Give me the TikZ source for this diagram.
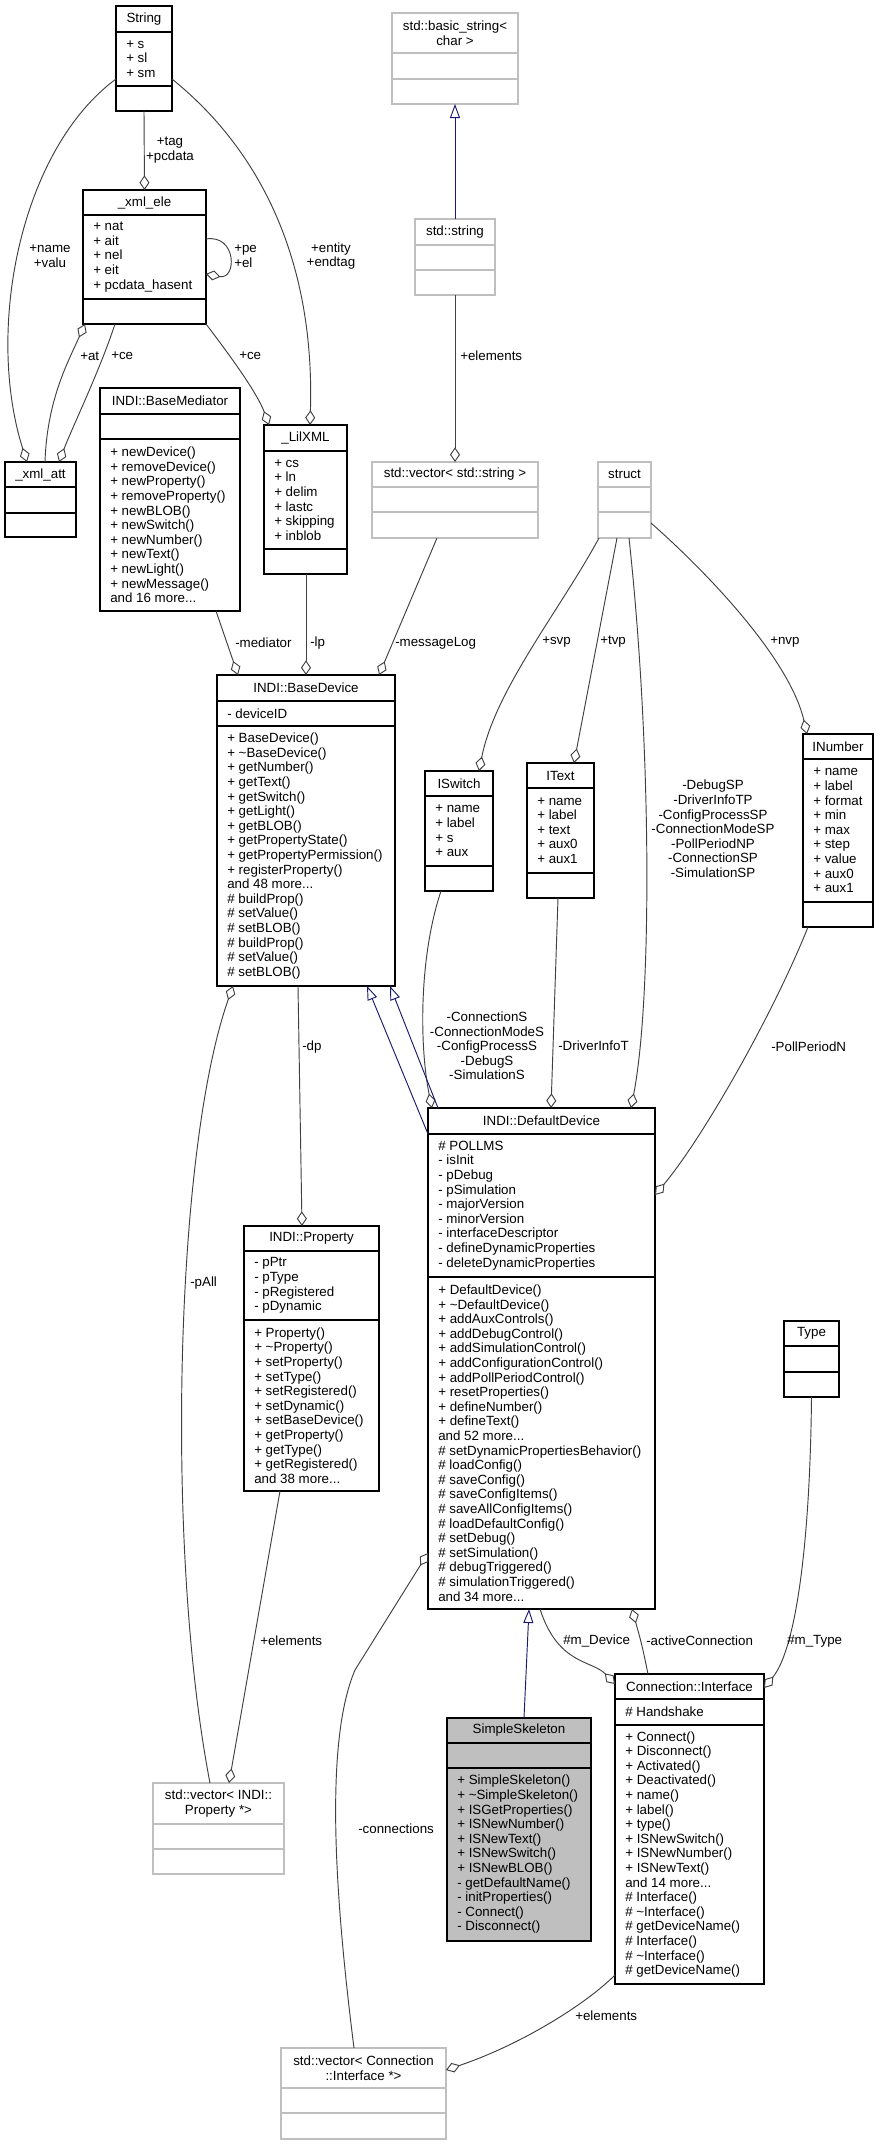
\documentclass[tikz,border=0pt]{standalone}
\usepackage{fontspec}
\setmainfont{Liberation Sans}
\usetikzlibrary{arrows.meta,calc}
\definecolor{edgegray}{HTML}{404040}
\definecolor{boxgray}{HTML}{BFBFBF}
\definecolor{inhblue}{HTML}{191970}
\newcommand{\umlfont}{\fontsize{10pt}{10.95pt}\selectfont}
% class box: name, style, x1, y1, x2, y2, first separator, second separator, title
\newcommand{\umlbox}[9]{%
  \node[#2, minimum width={(#5-#3)*0.75pt}, minimum height={(#6-#4)*0.75pt}, anchor=north west] (#1) at (#3,#4) {};
  \draw[#2] (#3,#7) -- (#5,#7) (#3,#8) -- (#5,#8);
  \node[clstitle] (#1-t) at ({(#3+#5)/2},{(#4+#7)/2}) {#9};}
\begin{document}
\begin{tikzpicture}[x=0.75pt,y=-0.75pt,
    cls/.style={draw=black,fill=white,line width=0.8pt,inner sep=0pt,outer sep=0pt},
    ext/.style={draw=boxgray,fill=white,line width=0.8pt,inner sep=0pt,outer sep=0pt},
    focus/.style={draw=black,fill=boxgray,line width=0.8pt,inner sep=0pt,outer sep=0pt},
    clstitle/.style={inner sep=0pt,align=center,font=\umlfont},
    members/.style={anchor=west,inner sep=0pt,align=left,font=\umlfont},
    lbl/.style={inner sep=0pt,align=center,font=\umlfont},
    aggr/.style={draw=edgegray,line width=0.7pt,-{Diamond[open,length=11pt,width=7.5pt]}},
    inherit/.style={draw=inhblue,line width=0.7pt,-{Triangle[open,length=10.5pt,width=7.5pt]}}]
  \fill[white] (0,0) rectangle (879,2145);
  \useasboundingbox (0,0) rectangle (879,2145);
  % xml parser structs
  \umlbox{str}{cls}{116}{6}{172}{111}{32}{86}{String}
  \node[members] (str-a) at (126,59) {+ s\\+ sl\\+ sm};
  \umlbox{xele}{cls}{83}{190}{206}{324}{215}{299}{\_xml\_ele}
  \node[members] (xele-a) at (93,257) {+ nat\\+ ait\\+ nel\\+ eit\\+ pcdata\_hasent};
  \umlbox{xatt}{cls}{5}{462}{76}{537}{487}{513}{\_xml\_att}
  \umlbox{lil}{cls}{264}{425}{347}{574}{451}{549}{\_LilXML}
  \node[members] (lil-a) at (274,500) {+ cs\\+ ln\\+ delim\\+ lastc\\+ skipping\\+ inblob};
  \umlbox{med}{cls}{100}{388}{240}{611}{414}{439}{INDI::BaseMediator}
  \node[members] (med-o) at (110,525) {+ newDevice()\\+ removeDevice()\\+ newProperty()\\+ removeProperty()\\+ newBLOB()\\+ newSwitch()\\+ newNumber()\\+ newText()\\+ newLight()\\+ newMessage()\\and 16 more...};
  % std classes
  \umlbox{bstr}{ext}{392}{13}{518}{104}{53}{79}{std::basic\_string<\\char >}
  \umlbox{sstr}{ext}{415}{219}{495}{295}{245}{270}{std::string}
  \umlbox{vstr}{ext}{372}{462}{538}{538}{487}{512}{std::vector< std::string >}
  \umlbox{struct}{ext}{598}{462}{651}{538}{487}{512}{struct}
  % base device
  \umlbox{bd}{cls}{217}{675}{395}{986}{701}{726}{INDI::BaseDevice}
  \node[members] (bd-a) at (227,713.5) {- deviceID};
  \node[members] (bd-o) at (227,856) {+ BaseDevice()\\+ \textasciitilde BaseDevice()\\+ getNumber()\\+ getText()\\+ getSwitch()\\+ getLight()\\+ getBLOB()\\+ getPropertyState()\\+ getPropertyPermission()\\+ registerProperty()\\and 48 more...\\\# buildProp()\\\# setValue()\\\# setBLOB()\\\# buildProp()\\\# setValue()\\\# setBLOB()};
  % property structs
  \umlbox{isw}{cls}{425}{771}{493}{891}{796}{866}{ISwitch}
  \node[members] (isw-a) at (435,831) {+ name\\+ label\\+ s\\+ aux};
  \umlbox{itext}{cls}{527}{763}{594}{898}{788}{873}{IText}
  \node[members] (itext-a) at (537,830.5) {+ name\\+ label\\+ text\\+ aux0\\+ aux1};
  \umlbox{inum}{cls}{803}{734}{873}{927}{759}{902}{INumber}
  \node[members] (inum-a) at (813,830.5) {+ name\\+ label\\+ format\\+ min\\+ max\\+ step\\+ value\\+ aux0\\+ aux1};
  % default device
  \umlbox{dd}{cls}{428}{1108}{655}{1609}{1134}{1277}{INDI::DefaultDevice}
  \node[members] (dd-a) at (438,1205.5) {\# POLLMS\\- isInit\\- pDebug\\- pSimulation\\- majorVersion\\- minorVersion\\- interfaceDescriptor\\- defineDynamicProperties\\- deleteDynamicProperties};
  \node[members] (dd-o) at (438,1443) {+ DefaultDevice()\\+ \textasciitilde DefaultDevice()\\+ addAuxControls()\\+ addDebugControl()\\+ addSimulationControl()\\+ addConfigurationControl()\\+ addPollPeriodControl()\\+ resetProperties()\\+ defineNumber()\\+ defineText()\\and 52 more...\\\# setDynamicPropertiesBehavior()\\\# loadConfig()\\\# saveConfig()\\\# saveConfigItems()\\\# saveAllConfigItems()\\\# loadDefaultConfig()\\\# setDebug()\\\# setSimulation()\\\# debugTriggered()\\\# simulationTriggered()\\and 34 more...};
  \umlbox{prop}{cls}{244}{1226}{379}{1491}{1251}{1320}{INDI::Property}
  \node[members] (prop-a) at (254,1285.5) {- pPtr\\- pType\\- pRegistered\\- pDynamic};
  \node[members] (prop-o) at (254,1405.5) {+ Property()\\+ \textasciitilde Property()\\+ setProperty()\\+ setType()\\+ setRegistered()\\+ setDynamic()\\+ setBaseDevice()\\+ getProperty()\\+ getType()\\+ getRegistered()\\and 38 more...};
  \umlbox{type}{cls}{784}{1321}{839}{1397}{1346}{1372}{Type}
  \umlbox{iface}{cls}{615}{1674}{764}{1984}{1699}{1725}{Connection::Interface}
  \node[members] (iface-a) at (625,1712) {\# Handshake};
  \node[members] (iface-o) at (625,1854.5) {+ Connect()\\+ Disconnect()\\+ Activated()\\+ Deactivated()\\+ name()\\+ label()\\+ type()\\+ ISNewSwitch()\\+ ISNewNumber()\\+ ISNewText()\\and 14 more...\\\# Interface()\\\# \textasciitilde Interface()\\\# getDeviceName()\\\# Interface()\\\# \textasciitilde Interface()\\\# getDeviceName()};
  \umlbox{ss}{focus}{447}{1718}{591}{1941}{1743}{1768}{SimpleSkeleton}
  \node[members] (ss-o) at (457,1854.5) {+ SimpleSkeleton()\\+ \textasciitilde SimpleSkeleton()\\+ ISGetProperties()\\+ ISNewNumber()\\+ ISNewText()\\+ ISNewSwitch()\\+ ISNewBLOB()\\- getDefaultName()\\- initProperties()\\- Connect()\\- Disconnect()};
  \umlbox{vprop}{ext}{153}{1783}{284}{1874}{1824}{1849}{std::vector< INDI::\\Property *>}
  \umlbox{vcon}{ext}{281}{2048}{446}{2139}{2088}{2113}{std::vector< Connection\\::Interface *>}
  % xml links
  \draw[aggr] (str.south) -- (xele.north);
  \draw[aggr] ($(str.north west)+(0,73)$) .. controls (20,150) and (-15,330) .. ($(xatt.north west)+(22,0)$);
  \draw[aggr] ($(str.north east)+(0,73)$) .. controls (260,150) and (315,260) .. ($(lil.north west)+(46,0)$);
  \draw[aggr] ($(xele.north east)+(0,49)$) .. controls (237,234) and (237,280) .. ($(xele.north east)+(0,84)$);
  \draw[aggr] ($(xatt.north west)+(40,0)$) .. controls (47,400) and (68,362) .. ($(xele.south west)+(2,0)$);
  \draw[aggr] ($(xele.south west)+(32,0)$) .. controls (100,370) and (72,428) .. ($(xatt.north west)+(54,0)$);
  \draw[aggr] (xele.south east) .. controls (235,362) and (258,395) .. ($(lil.north west)+(5,0)$);
  \node[lbl] (l-name) at (50,256) {+name\\+valu};
  \node[lbl] (l-tag) at (170,150) {+tag\\+pcdata};
  \node[lbl,anchor=west,align=left] (l-pe) at (234,256) {+pe\\+el};
  \node[lbl] (l-ent) at (331,256) {+entity\\+endtag};
  \node[lbl,anchor=west] (l-at) at (80,356) {+at};
  \node[lbl,anchor=west] (l-ce) at (111,356) {+ce};
  \node[lbl,anchor=west] (l-ce2) at (239,356) {+ce};
  % std string links
  \draw[inherit] (sstr.north) -- (bstr.south);
  \draw[aggr] (sstr.south) -- (vstr.north);
  \node[lbl,anchor=west] (l-el) at (460,356) {+elements};
  % base device members
  \draw[aggr] ($(med.south west)+(116,0)$) -- ($(bd.north west)+(21,0)$);
  \draw[aggr] ($(lil.south west)+(42,0)$) -- ($(bd.north west)+(89,0)$);
  \draw[aggr] ($(vstr.south west)+(65,0)$) -- ($(bd.north west)+(162,0)$);
  \node[lbl,anchor=west] (l-med) at (235,643) {-mediator};
  \node[lbl,anchor=west] (l-lp) at (310,643) {-lp};
  \node[lbl,anchor=west] (l-log) at (395,643) {-messageLog};
  % vector properties
  \draw[aggr] ($(struct.south west)+(1,0)$) .. controls (560,610) and (495,690) .. ($(isw.north west)+(54,0)$);
  \draw[aggr] ($(struct.south west)+(19,0)$) -- ($(itext.north west)+(47,0)$);
  \draw[aggr] ($(struct.south west)+(31,0)$) .. controls (652,750) and (652,1000) .. ($(dd.north west)+(203,0)$);
  \draw[aggr] ($(struct.north east)+(0,61)$) .. controls (710,575) and (790,660) .. ($(inum.north west)+(4,0)$);
  \node[lbl,anchor=west] (l-svp) at (542,642) {+svp};
  \node[lbl,anchor=west] (l-tvp) at (600,642) {+tvp};
  \node[lbl,anchor=west] (l-nvp) at (770,642) {+nvp};
  \node[lbl] (l-sp) at (713,829) {-DebugSP\\-DriverInfoTP\\-ConfigProcessSP\\-ConnectionModeSP\\-PollPeriodNP\\-ConnectionSP\\-SimulationSP};
  % default device members
  \draw[aggr] ($(isw.south west)+(16,0)$) .. controls (418,960) and (420,1050) .. ($(dd.north west)+(4,0)$);
  \draw[aggr] ($(itext.south west)+(31,0)$) -- ($(dd.north west)+(123,0)$);
  \draw[aggr] ($(inum.south west)+(5,0)$) .. controls (775,1010) and (705,1135) .. ($(dd.north east)+(0,87)$);
  \node[lbl] (l-s) at (487,1046) {-ConnectionS\\-ConnectionModeS\\-ConfigProcessS\\-DebugS\\-SimulationS};
  \node[lbl,anchor=west] (l-dit) at (558,1046) {-DriverInfoT};
  \node[lbl,anchor=west] (l-ppn) at (771,1047) {-PollPeriodN};
  % inheritance
  \draw[inherit] ($(dd.north west)+(0,26)$) -- ($(bd.south west)+(150,0)$);
  \draw[inherit] ($(dd.north west)+(10,0)$) -- ($(bd.south west)+(173,0)$);
  \draw[inherit] ($(ss.north west)+(77,0)$) -- ($(dd.south west)+(101,0)$);
  % properties
  \draw[aggr] ($(bd.south west)+(81,0)$) -- ($(prop.north west)+(58,0)$);
  \node[lbl,anchor=west] (l-dp) at (302,1047) {-dp};
  \draw[aggr] ($(vprop.north west)+(57,0)$) .. controls (165,1550) and (175,1150) .. ($(bd.south west)+(16,0)$);
  \node[lbl,anchor=west] (l-pall) at (190,1283) {-pAll};
  \draw[aggr] ($(prop.south west)+(36,0)$) -- ($(vprop.north west)+(76,0)$);
  \node[lbl,anchor=west] (l-el2) at (260,1641) {+elements};
  % connections
  \draw[aggr] ($(vcon.north west)+(73,0)$) .. controls (334,1890) and (325,1740) .. (355,1670) -- ($(dd.north west)+(0,445)$);
  \node[lbl,anchor=west] (l-con) at (358,1829) {-connections};
  \draw[aggr] ($(dd.south west)+(112,0)$) .. controls (558,1665) and (592,1660) .. ($(iface.north west)+(0,10)$);
  \draw[aggr] ($(iface.north west)+(33,0)$) .. controls (642,1645) .. ($(dd.south west)+(204,0)$);
  \draw[aggr] (type.south) .. controls (810,1550) and (795,1650) .. ($(iface.north east)+(0,14)$);
  \node[lbl,anchor=west] (l-mdev) at (563,1641) {\#m\_Device};
  \node[lbl,anchor=west] (l-act) at (646,1641) {-activeConnection};
  \node[lbl,anchor=west] (l-mtype) at (787,1641) {\#m\_Type};
  \draw[aggr] ($(iface.south west)+(0,-9)$) .. controls (585,2005) and (520,2045) .. ($(vcon.north east)+(0,22)$);
  \node[lbl,anchor=west] (l-el3) at (575,2016) {+elements};
\end{tikzpicture}
\end{document}
